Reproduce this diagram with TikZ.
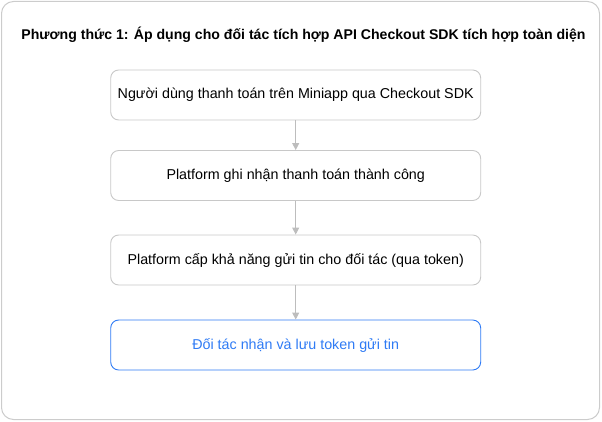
\documentclass[tikz,border=0pt]{standalone}
\usepackage{fontspec}
\setmainfont{Liberation Sans}
\usetikzlibrary{arrows.meta}
\definecolor{bordergray}{HTML}{C8C8C8}
\definecolor{framegray}{HTML}{CCCCCC}
\definecolor{arrowgray}{HTML}{BDBDBD}
\definecolor{accentblue}{HTML}{2F7BF5}
\begin{document}
\begin{tikzpicture}[x=1pt,y=-1pt,
  stepbox/.style={draw=bordergray, line width=0.9pt, rounded corners=8pt, minimum width=370pt, minimum height=50pt, inner sep=0pt, fill=white, font=\fontsize{14.3}{16}\selectfont, text=black},
  finalbox/.style={stepbox, draw=accentblue, text=accentblue},
  flow/.style={draw=arrowgray, line width=0.9pt, -{Triangle[width=7pt,length=7pt]}}
]
\useasboundingbox (0,0) rectangle (602,422);
\draw[framegray, line width=1pt, rounded corners=12pt] (1.5,1.5) rectangle (599.5,419.5);
\node[font=\bfseries\fontsize{14.1}{16}\selectfont] (title) at (303.5,35) {Phương thức 1: Áp dụng cho đối tác tích hợp API Checkout SDK tích hợp toàn diện};
\node[stepbox] (s1) at (295.7,95) {Người dùng thanh toán trên Miniapp qua Checkout SDK};
\node[stepbox] (s2) at (295.7,175.5) {Platform ghi nhận thanh toán thành công};
\node[stepbox] (s3) at (295.7,260) {Platform cấp khả năng gửi tin cho đối tác (qua token)};
\node[finalbox] (s4) at (295.7,345) {Đối tác nhận và lưu token gửi tin};
\draw[flow] (s1) -- (s2);
\draw[flow] (s2) -- (s3);
\draw[flow] (s3) -- (s4);
\end{tikzpicture}
\end{document}
